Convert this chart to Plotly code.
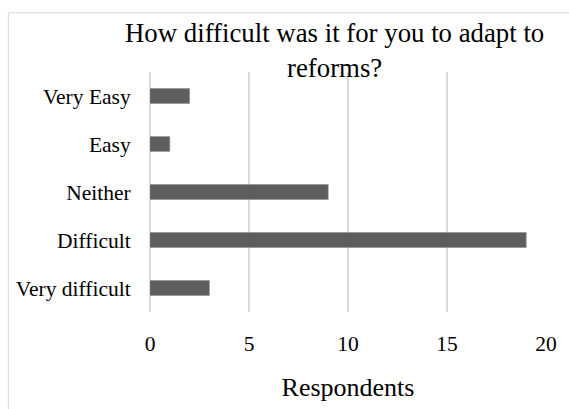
import plotly.graph_objects as go

categories = ["Very difficult", "Difficult", "Neither", "Easy", "Very Easy"]
respondents = [3, 19, 9, 1, 2]
x_ticks = [0, 5, 10, 15, 20]
title_text = "How difficult was it for you to adapt to<br>reforms?"
x_title = "Respondents"

font_family = "Liberation Serif"

fig = go.Figure(
    go.Bar(
        x=respondents,
        y=categories,
        orientation="h",
        marker=dict(color="#5e5e5e", line=dict(color="#8a8a8a", width=0.6)),
    )
)

fig.update_layout(
    width=569,
    height=409,
    margin=dict(l=150, r=22, t=72, b=94),
    paper_bgcolor="white",
    plot_bgcolor="white",
    bargap=0.69,
    showlegend=False,
    font=dict(family=font_family, color="#000000"),
    annotations=[
        dict(
            text=title_text,
            xref="paper",
            yref="paper",
            x=(335 - 150) / 397,
            y=(315 - 15) / 243,
            xanchor="center",
            yanchor="top",
            showarrow=False,
            font=dict(size=26.8, family=font_family, color="#000000"),
        )
    ],
    shapes=[
        dict(
            type="rect",
            xref="paper",
            yref="paper",
            x0=(8 - 150) / 397,
            x1=(580 - 150) / 397,
            y0=(315 - 420) / 243,
            y1=(315 - 12) / 243,
            line=dict(color="#d9d9d9", width=1),
            fillcolor="rgba(0,0,0,0)",
            layer="below",
        )
    ],
)

fig.update_xaxes(
    range=[0, 20],
    tickvals=x_ticks,
    showgrid=True,
    gridcolor="#d9d9d9",
    gridwidth=1.5,
    zeroline=True,
    zerolinecolor="#d9d9d9",
    zerolinewidth=1.5,
    showline=False,
    ticks="outside",
    ticklen=12,
    tickcolor="rgba(0,0,0,0)",
    tickfont=dict(size=21.5, family=font_family, color="#000000"),
    title=dict(text=x_title, font=dict(size=26, family=font_family, color="#000000"), standoff=23),
    fixedrange=True,
)

fig.update_yaxes(
    categoryorder="array",
    categoryarray=categories,
    showgrid=False,
    zeroline=False,
    showline=False,
    ticks="outside",
    ticklen=14,
    tickcolor="rgba(0,0,0,0)",
    tickfont=dict(size=21.5, family=font_family, color="#000000"),
    fixedrange=True,
)

fig.write_html("out.html")
